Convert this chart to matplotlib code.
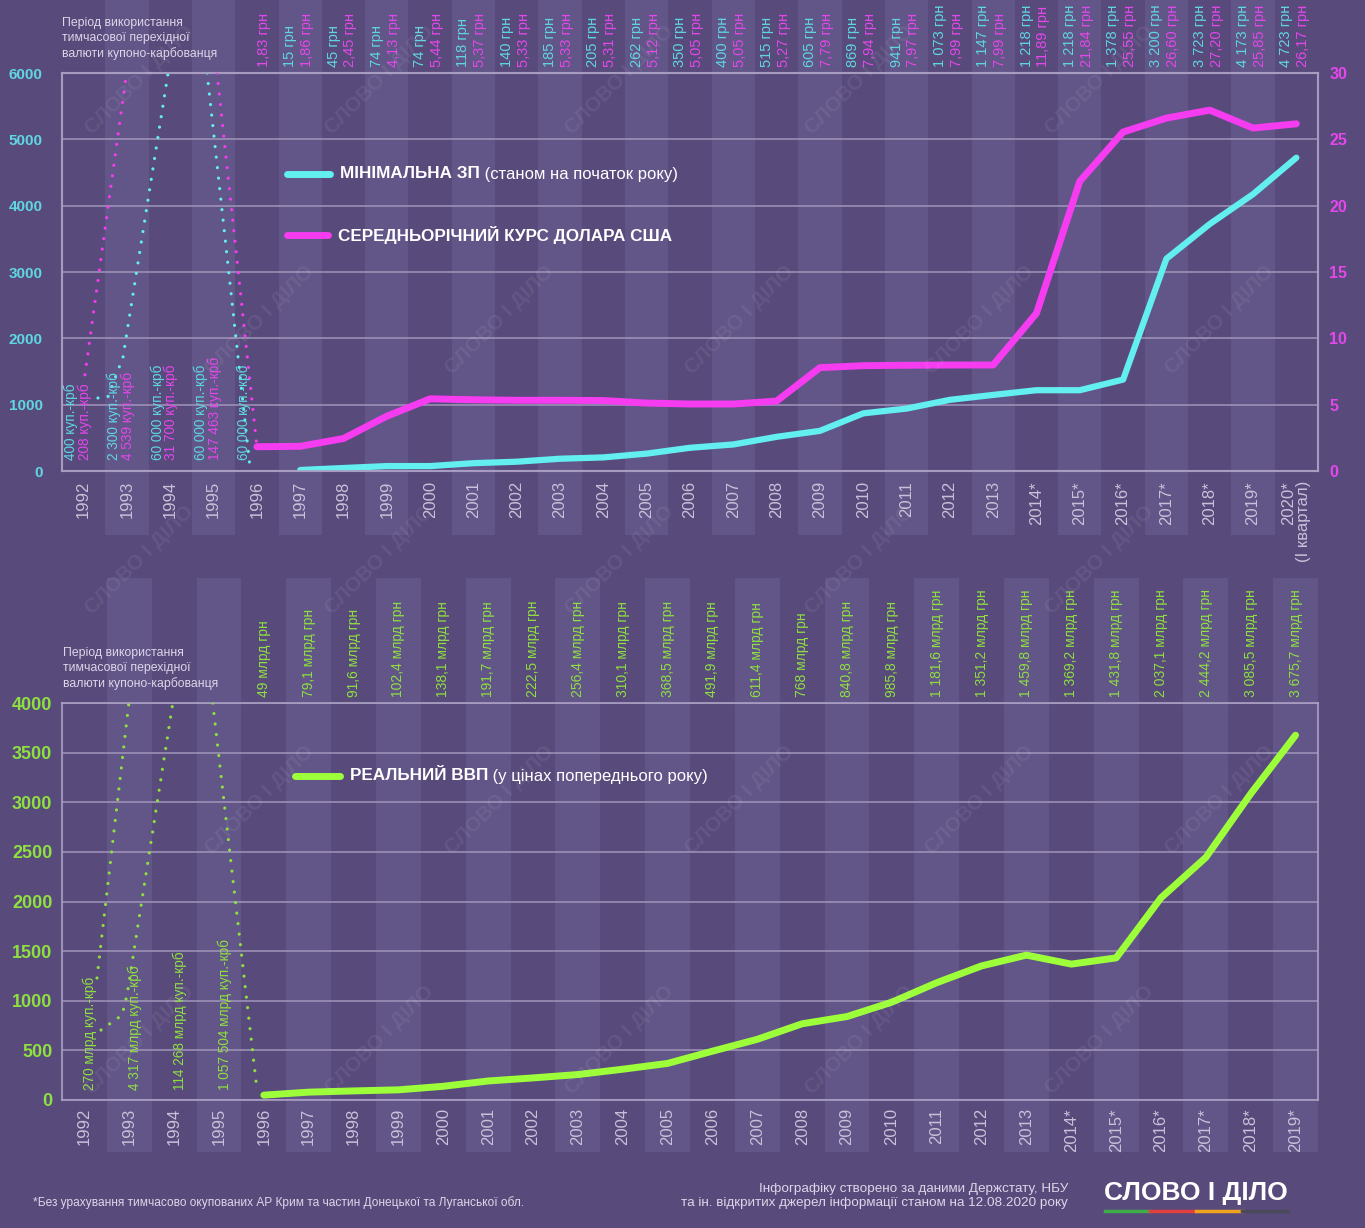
import matplotlib
matplotlib.use("Agg")
import matplotlib.pyplot as plt
from matplotlib.patches import Rectangle
from matplotlib.lines import Line2D
from matplotlib.transforms import blended_transform_factory

plt.rcParams["font.family"] = ["Liberation Sans", "DejaVu Sans"]

# ---- data ----
years_top = [str(y) for y in range(1992, 2014)] + [f"{y}*" for y in range(2014, 2020)] + ["2020*\n(І квартал)"]
years_bot = [str(y) for y in range(1992, 2014)] + [f"{y}*" for y in range(2014, 2020)]

# мінімальна ЗП, грн (1997-2020)
min_wage = [15, 45, 74, 74, 118, 140, 185, 205, 262, 350, 400, 515, 605, 869, 941,
            1073, 1147, 1218, 1218, 1378, 3200, 3723, 4173, 4723]
# курс долара, грн (1996-2020)
usd_rate = [1.83, 1.86, 2.45, 4.13, 5.44, 5.37, 5.33, 5.33, 5.31, 5.12, 5.05, 5.05, 5.27,
            7.79, 7.94, 7.97, 7.99, 7.99, 11.89, 21.84, 25.55, 26.60, 27.20, 25.85, 26.17]
# реальний ВВП, млрд грн (1996-2019)
gdp = [49, 79.1, 91.6, 102.4, 138.1, 191.7, 222.5, 256.4, 310.1, 368.5, 491.9, 611.4,
       768, 840.8, 985.8, 1181.6, 1351.2, 1459.8, 1369.2, 1431.8, 2037.1, 2444.2, 3085.5, 3675.7]

# купоно-карбованець (1992-1996), only as labels
kupon_wage = ["400 куп.-крб", "2 300 куп.-крб", "60 000 куп.-крб", "60 000 куп.-крб", "60 000 куп.-крб"]
kupon_rate = ["208 куп.-крб", "4 539 куп.-крб", "31 700 куп.-крб", "147 463 куп.-крб"]
kupon_gdp = ["270 млрд куп.-крб", "4 317 млрд куп.-крб", "114 268 млрд куп.-крб", "1 057 504 млрд куп.-крб"]

# dotted "off the scale" guides for kupon period (category index, axis units)
wage_guide_a = ([0.33, 0.56, 0.91, 1.95], [1100, 1116, 1720, 6000])
wage_guide_b = ([2.85, 3.84], [6000, 60])
rate_guide_a = ([0.03, 0.99], [7.25, 30])
rate_guide_b = ([3.08, 4.0], [30, 1.83])
gdp_guide_a = ([0.28, 0.99], [1229, 4000])
gdp_guide_b = ([0.37, 0.84, 0.95, 1.97], [705, 856, 1058, 4000])
gdp_guide_c = ([2.86, 3.84], [4000, 130])

# ---- style ----
BG = "#594a7c"
STRIPE = "#625588"
CYAN = "#63eef0"
CYAN_T = "#5fd6e0"
MAG = "#f53cf0"
MAG_T = "#e447ea"
GREEN = "#9cff3a"
GREEN_T = "#8ee040"
GRID = "#a99ec2"
YEARC = "#c9c1d9"
NOTEC = "#ddd6e8"


def ua_num(v, dec):
    s = f"{v:,.{dec}f}".replace(",", " ").replace(".", ",")
    return s


W, H = 1365, 1228
fig = plt.figure(figsize=(W / 100, H / 100), dpi=100, facecolor=BG)

ax1 = fig.add_axes([62 / W, 1 - 471 / H, (1318 - 62) / W, (471 - 73) / H])
ax2 = fig.add_axes([62 / W, 1 - 1100 / H, (1318 - 62) / W, (1100 - 703) / H])
ax1r = ax1.twinx()

dot = dict(lw=2.3, linestyle=(0, (0.01, 3.3)), dash_capstyle="round")

# ---- top chart ----
x_w = list(range(5, 29))
x_r = list(range(4, 29))
ax1.plot(x_w, min_wage, color=CYAN, lw=4.5, solid_capstyle="round", zorder=4)
ax1.plot(*wage_guide_a, color=CYAN, zorder=3, **dot)
ax1.plot(*wage_guide_b, color=CYAN, zorder=3, **dot)
ax1r.plot(x_r, usd_rate, color=MAG, lw=5, solid_capstyle="round", zorder=4)
ax1r.plot(*rate_guide_a, color=MAG, zorder=3, **dot)
ax1r.plot(*rate_guide_b, color=MAG, zorder=3, **dot)

ax1.set_xlim(-0.5, len(years_top) - 0.5)
ax1.set_ylim(0, 6000)
ax1r.set_ylim(0, 30)
ax1.set_yticks(range(0, 6001, 1000))
ax1r.set_yticks(range(0, 31, 5))
ax1.set_xticks([])
ax1.grid(axis="y", color=GRID, lw=1.3, alpha=0.75)
ax1.tick_params(axis="y", length=0, pad=14, labelsize=11, labelcolor=CYAN_T)
ax1r.tick_params(axis="y", length=0, pad=8, labelsize=11.5, labelcolor=MAG_T)
for t in ax1.get_yticklabels() + ax1r.get_yticklabels():
    t.set_fontweight("bold")

# ---- bottom chart ----
x_g = list(range(4, 28))
ax2.plot(x_g, gdp, color=GREEN, lw=5, solid_capstyle="round", zorder=4)
for g in (gdp_guide_a, gdp_guide_b, gdp_guide_c):
    ax2.plot(*g, color=GREEN_T, zorder=3, **dot)
ax2.set_xlim(-0.5, len(years_bot) - 0.5)
ax2.set_ylim(0, 4000)
ax2.set_yticks(range(0, 4001, 500))
ax2.set_xticks([])
ax2.grid(axis="y", color=GRID, lw=1.3, alpha=0.75)
ax2.tick_params(axis="y", length=0, pad=7, labelsize=13, labelcolor=GREEN_T)
for t in ax2.get_yticklabels():
    t.set_fontweight("bold")

for a in (ax1, ax1r, ax2):
    a.patch.set_alpha(0)
    for s in a.spines.values():
        s.set_color(GRID)
        s.set_linewidth(1.5)
        s.set_alpha(0.85)

# ---- column stripes ----
for a, n, y0, y1 in ((ax1, len(years_top), 1 - 535 / H, 1.0),
                     (ax2, len(years_bot), 1 - 1152 / H, 1 - 578 / H)):
    tr = blended_transform_factory(a.transData, fig.transFigure)
    for i in range(1, n, 2):
        fig.patches.append(Rectangle((i - 0.5, y0), 1, y1 - y0, transform=tr,
                                     facecolor=STRIPE, edgecolor="none", zorder=-5))

# ---- year labels ----
for i, y in enumerate(years_top):
    ax1.text(i, -0.025, y, transform=ax1.get_xaxis_transform(), rotation=90, ha="center",
             va="top", multialignment="right", fontsize=12, color=YEARC, linespacing=1.0)
for i, y in enumerate(years_bot):
    ax2.text(i, -0.02, y, transform=ax2.get_xaxis_transform(), rotation=90, ha="center",
             va="top", fontsize=12, color=YEARC)

# ---- value labels on top ----
tx1 = ax1.get_xaxis_transform()
for i, v in enumerate(min_wage):
    ax1.text(x_w[i] - 0.23, 1.015, f"{ua_num(v, 0)} грн", transform=tx1, rotation=90,
             ha="center", va="bottom", fontsize=10.5, color=CYAN_T, clip_on=False)
for i, v in enumerate(usd_rate):
    ax1.text(x_r[i] + 0.16, 1.015, f"{ua_num(v, 2)} грн", transform=tx1, rotation=90,
             ha="center", va="bottom", fontsize=10.5, color=MAG_T, clip_on=False)
tx2 = ax2.get_xaxis_transform()
for i, v in enumerate(gdp):
    dec = 0 if float(v).is_integer() else 1
    ax2.text(x_g[i], 1.015, f"{ua_num(v, dec)} млрд грн", transform=tx2, rotation=90,
             ha="center", va="bottom", fontsize=10, color=GREEN_T, clip_on=False)

# kupon labels inside plots
for i, s in enumerate(kupon_wage):
    ax1.text(i - 0.3, 0.028, s, transform=tx1, rotation=90, ha="center", va="bottom",
             fontsize=9.8, color=CYAN_T, zorder=5)
for i, s in enumerate(kupon_rate):
    ax1.text(i + 0.02, 0.028, s, transform=tx1, rotation=90, ha="center", va="bottom",
             fontsize=9.8, color=MAG_T, zorder=5)
for i, s in enumerate(kupon_gdp):
    ax2.text(i + 0.12, 0.025, s, transform=tx2, rotation=90, ha="center", va="bottom",
             fontsize=9.8, color=GREEN_T, zorder=5)

# ---- legends ----
def legend_entry(y_px, x0, x1, color, bold, rest):
    y = 1 - y_px / H
    fig.add_artist(Line2D([x0 / W, x1 / W], [y, y], color=color, lw=5, solid_capstyle="round"))
    t = fig.text((x1 + 10) / W, y, bold, fontsize=12.3, fontweight="bold", color="white",
                 va="center", ha="left")
    if rest:
        ax1.annotate(rest, xy=(1, 0), xycoords=t, va="bottom", ha="left", fontsize=12,
                     color="white", annotation_clip=False)

legend_entry(174, 287, 330, CYAN, "МІНІМАЛЬНА ЗП", " (станом на початок року)")
legend_entry(235, 287, 328, MAG, "СЕРЕДНЬОРІЧНИЙ КУРС ДОЛАРА США", "")
legend_entry(776, 295, 340, GREEN, "РЕАЛЬНИЙ ВВП", " (у цінах попереднього року)")

# ---- notes ----
note = "Період використання\nтимчасової перехідної\nвалюти купоно-карбованця"
fig.text(62 / W, 1 - 17 / H, note, fontsize=8.8, color=NOTEC, va="top", ha="left", linespacing=1.3)
fig.text(63 / W, 1 - 647 / H, note, fontsize=8.8, color=NOTEC, va="top", ha="left", linespacing=1.3)

fig.text(33 / W, 1 - 1203 / H,
         "*Без урахування тимчасово окупованих АР Крим та частин Донецької та Луганської обл.",
         fontsize=8.6, color=NOTEC, va="center", ha="left")
fig.text(1068 / W, 1 - 1196 / H,
         "Інфографіку створено за даними Держстату, НБУ\n"
         "та ін. відкритих джерел інформації станом на 12.08.2020 року",
         fontsize=9.7, color=NOTEC, va="center", ha="right", multialignment="right", linespacing=1.3)

# logo
fig.text(1196 / W, 1 - 1193 / H, "СЛОВО І ДІЛО", fontsize=19, fontweight="bold", color="white",
         va="center", ha="center")
for x0, x1, c in ((1105, 1150, "#3fae49"), (1150, 1196, "#e2403e"),
                  (1196, 1242, "#f0a41e"), (1242, 1288, "#4a4a5a")):
    fig.add_artist(Line2D([x0 / W, x1 / W], [1 - 1211 / H] * 2, color=c, lw=2.5))

# watermarks
for r, yp in enumerate(range(80, 1160, 240)):
    off = 0 if r % 2 == 0 else 120
    for xp in range(140 + off, 1280, 240):
        fig.text(xp / W, 1 - yp / H, "СЛОВО І ДІЛО", rotation=45, fontsize=15, fontweight="bold",
                 color="white", alpha=0.07, ha="center", va="center", zorder=10)

fig.savefig("out.png", dpi=100, facecolor=BG)
